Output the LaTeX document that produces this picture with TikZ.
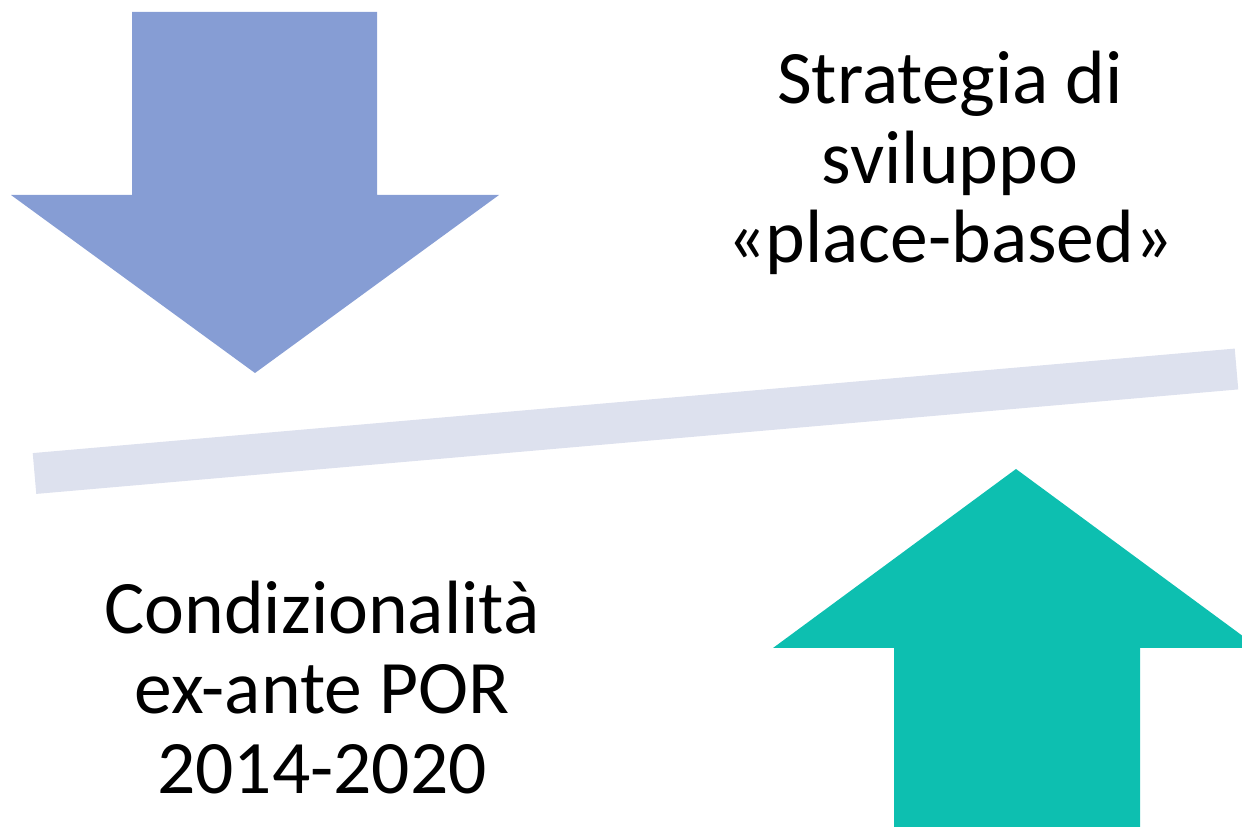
\documentclass[tikz,border=0pt]{standalone}
\usepackage{fontspec}
\setmainfont{Carlito}
\usepackage{tikz}
\usetikzlibrary{calc}
\definecolor{downBlue}{RGB}{134,157,212}
\definecolor{upTeal}{RGB}{13,191,176}
\definecolor{beamGray}{RGB}{221,225,238}
\begin{document}
\begin{tikzpicture}[x=0.02cm, y=-0.02cm]
    \tikzset{
      lbl/.style={
        align=center,
        inner sep=0pt,
        anchor=base,
        font=\fontsize{43}{45.5}\selectfont,
      },
      beam/.style={
        draw=beamGray,
        line width=0.82cm,
        line cap=butt,
      }
    }
    \useasboundingbox (0,0) rectangle (1242,827);

    % down arrow
    \fill[downBlue] (132,12) -- (377,12) -- (377,195) -- (499,195)
        -- (255,373) -- (11,195) -- (132,195) -- cycle;

    % up arrow (cut at the right edge)
    \begin{scope}
      \clip (0,0) rectangle (1242,827);
      \fill[upTeal] (894,827) -- (894,648) -- (773,648) -- (1016,469)
          -- (1259,648) -- (1140,648) -- (1140,827) -- cycle;
    \end{scope}

    % beam
    \coordinate (beamL) at (34.5,473.5);
    \coordinate (beamR) at (1236.5,369);
    \draw[beam] (beamL) -- (beamR);

    % base = baseline of the last line
    \node[lbl] (strategia) at (950,263) {Strategia di\\sviluppo\\«place-based»};
    \node[lbl] (condiz) at (322,793) {Condizionalità\\ex-ante POR\\2014-2020};
\end{tikzpicture}
\end{document}
